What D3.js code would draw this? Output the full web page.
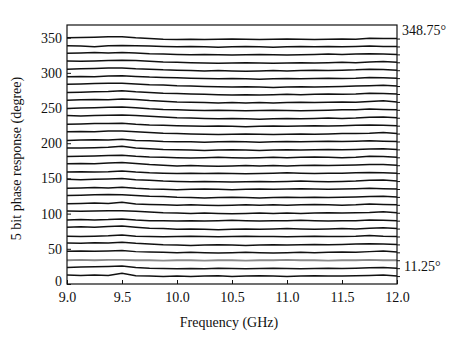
<!DOCTYPE html>
<html>
<head>
<meta charset="utf-8">
<script src="https://cdn.jsdelivr.net/npm/d3@7"></script>
<style>
  body { margin: 0; background: #fff; }
  text { font-family: "Liberation Serif", "Times New Roman", serif; fill: #111; }
</style>
</head>
<body>
<div id="chart-container"></div>
<script>
// frequency points (GHz)
const freqs = [9.0, 9.125, 9.25, 9.375, 9.5, 9.625, 9.75, 9.875, 10.0, 10.125, 10.25, 10.375,
  10.5, 10.625, 10.75, 10.875, 11.0, 11.125, 11.25, 11.375, 11.5, 11.625, 11.75, 11.875, 12.0];

// nominal phase states (degree)
const states = [11.25, 22.5, 33.75, 45, 56.25, 67.5, 78.75, 90, 101.25, 112.5, 123.75, 135,
  146.25, 157.5, 168.75, 180, 191.25, 202.5, 213.75, 225, 236.25, 247.5, 258.75, 270,
  281.25, 292.5, 303.75, 315, 326.25, 337.5, 348.75];

// measured phase error of each state against frequency (degree)
const phaseError = [
  [1.5, 1, 1.5, 1, 4, 0.5, 0, -0.5, 0, -0.5, 0, 0.5, -0.5, 0, 0.5, 0, -0.5, 0, 0.5, 0, 0, 0.5, 1, 1.5, 0],
  [1, 1.5, 2, 2.5, 3, 1, 0, -0.5, -1, -0.5, -1, 0, -0.5, -1, -0.5, 0, -0.5, -1, -0.5, 0, -0.5, 0, 0.5, 1, 0],
  [0, 0.5, 0, 0.5, 0.5, 0, 0, -0.5, 0, 0, -0.5, 0, 0, -0.5, 0, 0, 0.5, 0, 0, -0.5, 0, 0, 0.5, 0, 0],
  [1.5, 2, 1.5, 2, 2.5, 1, 0.5, 0, -0.5, 0, -0.5, -1, -0.5, 0, -0.5, -1, -0.5, 0, -0.5, 0, 0.5, 0, 1, 2, 0.5],
  [2, 1.5, 2.5, 2, 3, 1.5, 0.5, -0.5, -1, -1.5, -1, -0.5, -1, -1.5, -1, -0.5, -1, -0.5, 0, -0.5, 0, 0.5, 1, 0.5, 0],
  [0.5, 0, 0.5, 1, 2, 0.5, 0, -0.5, 0, 0.5, 0, -0.5, 0, 0.5, 0, 0, -0.5, 0, 0.5, 0, 0, 0.5, 1.5, 0.5, 0],
  [2, 2.5, 2, 3, 3.5, 2, 0.5, 0, -1, -0.5, -1, -1.5, -1, -0.5, -1, -0.5, 0, -0.5, -1, -0.5, 0, -0.5, 0.5, 1, 0],
  [1, 1.5, 1, 1.5, 2.5, 1, 0, 0, -0.5, 0, -0.5, 0, 0.5, 0, -0.5, 0, 0, 0.5, 0, -0.5, 0, 0, 1, 0.5, 0],
  [2.5, 2, 2.5, 3, 3, 2, 1, 0, -0.5, -1, -0.5, -1, -1.5, -1, -0.5, -1, -0.5, -1, -0.5, 0, -0.5, 0, 0.5, 1.5, 0],
  [1.5, 2, 2.5, 2, 3.5, 1, 0.5, 0, -0.5, 0, -0.5, -1, -0.5, 0, -0.5, 0, -0.5, 0, 0.5, 0, -0.5, 0, 1, 0.5, 0],
  [2, 2.5, 3, 3.5, 3, 2, 1, 0.5, -0.5, -1, -1.5, -1, -0.5, -1, -1.5, -1, -0.5, -1, -0.5, -1, -0.5, 0, 0.5, 1, 0],
  [1, 1.5, 2, 1.5, 2.5, 1, 0, -0.5, -1, -0.5, 0, -0.5, -1, -0.5, 0, -0.5, 0, 0.5, 0, -0.5, 0, 0.5, 1, 0.5, 0],
  [2.5, 2, 2.5, 3, 3.5, 2, 1, 0, -0.5, -1, -0.5, -1, -1.5, -1, -0.5, -1, -0.5, 0, -0.5, -1, -0.5, 0, 1, 1.5, 0],
  [1.5, 2, 1.5, 2, 3, 1.5, 0.5, 0, -0.5, 0, -0.5, 0, -0.5, -1, -0.5, 0, 0.5, 0, -0.5, 0, 0, 0.5, 1, 0.5, 0],
  [2, 2.5, 2, 3, 4, 2.5, 1, 0, -1, -0.5, -1, -1.5, -1, -0.5, -1, -0.5, -1, -0.5, 0, -0.5, 0, 0.5, 1, 1, 0],
  [1, 1.5, 2, 2.5, 3, 1.5, 0.5, 0, -0.5, -1, -0.5, 0, -0.5, -1, -0.5, 0, -0.5, 0, 0.5, 0, -0.5, 0, 1.5, 1, 0],
  [2, 2, 2.5, 3, 4.5, 2, 1, 0, -0.5, -1, -1.5, -1, -0.5, -1, -1.5, -1, -0.5, -1, -0.5, 0, -0.5, 0, 0.5, 1, 0],
  [1.5, 2, 2.5, 2, 3, 1.5, 1, 0, -0.5, -0.5, -1, -0.5, 0, -0.5, -1, -0.5, 0, -0.5, 0, 0.5, 0, 0.5, 1, 0.5, 0],
  [2.5, 3, 2.5, 3.5, 3.5, 2.5, 1.5, 0.5, 0, -0.5, -1, -1.5, -1, -0.5, -1, -1.5, -1, -0.5, -1, -0.5, 0, 0, 0.5, 1.5, 0],
  [2, 2.5, 3, 3, 3.5, 2, 1, 0.5, 0, -0.5, -1, -0.5, -1, -1.5, -1, -0.5, -1, -0.5, 0, -0.5, 0, 0.5, 1, 0.5, 0],
  [3, 2.5, 3, 3.5, 4, 3, 2, 1, 0, -0.5, -1, -1.5, -1, -1.5, -2, -1.5, -1, -1.5, -1, -0.5, -1, -0.5, 0.5, 1, 0],
  [2, 2.5, 3, 3.5, 4, 3, 1.5, 0.5, 0, -0.5, -1, -0.5, -1, -1.5, -1, -0.5, -1, -1.5, -1, -0.5, 0, 0, 1, 0.5, 0],
  [2.5, 3, 3.5, 3, 4, 3.5, 2, 1, 0, -0.5, -1, -1.5, -1, -1.5, -1, -1.5, -1, -0.5, -1, -0.5, 0, -0.5, 0.5, 1.5, 0],
  [2, 2.5, 3, 3.5, 4.5, 3, 2, 1, 0.5, 0, -0.5, -1, -1.5, -1, -1.5, -1, -0.5, -1, -0.5, 0, -0.5, 0, 1, 0.5, 0],
  [2.5, 3, 3.5, 4, 4, 3, 2, 1.5, 0.5, 0, -0.5, -1, -1.5, -1, -1.5, -2, -1.5, -1, -1.5, -1, -0.5, 0, 0.5, 1, 0],
  [2, 2.5, 2, 3, 3.5, 2.5, 1.5, 1, 0.5, 0, -0.5, -1, -0.5, -1, -1.5, -1, -0.5, -1, -0.5, 0, -0.5, 0, 1, 0.5, 0],
  [1.5, 2, 2.5, 3, 3, 2, 1.5, 0.5, 0, -0.5, -1, -0.5, -1, -1.5, -1, -0.5, -1, -0.5, 0, -0.5, 0, 0.5, 1.5, 1, 0],
  [2, 1.5, 2, 2.5, 3, 2.5, 1.5, 0.5, 0, -0.5, -1, -1.5, -1, -0.5, -1, -1.5, -1, -0.5, -1, -0.5, 0, -0.5, 0.5, 1, 0],
  [1.5, 2, 2.5, 2, 2.5, 2, 1, 0.5, 0, -0.5, 0, -0.5, -1, -0.5, 0, -0.5, -1, -0.5, 0, 0.5, 0, 0.5, 1, 0.5, 0],
  [1, 0.5, -0.5, 1, 1.5, 1, 0.5, 0, -0.5, 0, -0.5, -1, -0.5, 0, -0.5, -1, -0.5, 0, -0.5, 0, -0.5, 0, 0.5, 0, 0],
  [1, 1.5, 2, 2.5, 2.5, 1, 0, -1, -1.5, -1, -1.5, -1, -0.5, -1, -1.5, -1, -0.5, -1, -1.5, -1, -0.5, -1, 0.5, 0, 0]
];

const xTicks = [9.0, 9.5, 10.0, 10.5, 11.0, 11.5, 12.0];
const yTicks = [0, 50, 100, 150, 200, 250, 300, 350];
const endLabels = ["348.75°", "11.25°"];

const xLabel = "Frequency (GHz)";
const yLabel = "5 bit phase response (degree)";

// set dimensions and margins for the chart
const margin = { top: 25, right: 59, bottom: 53, left: 67 };
const width = 456 - margin.left - margin.right;
const height = 337 - margin.top - margin.bottom;

const svg = d3.select("#chart-container")
  .append("svg")
  .attr("width", 456)
  .attr("height", 337)
  .append("g")
  .attr("transform", `translate(${margin.left},${margin.top})`);

const x = d3.scaleLinear().domain([9, 12]).range([0, width]);
const y = d3.scaleLinear().domain([0, 368]).range([height, 0]);

// lines for every phase state
const line = d3.line()
  .x((d, i) => x(freqs[i]))
  .y(d => y(d));

states.forEach((s, k) => {
  const values = phaseError[k].map(e => s + e);
  svg.append("path")
    .datum(values)
    .attr("fill", "none")
    .attr("stroke", s === 33.75 ? "#8a8a8a" : "#111")
    .attr("stroke-width", s === 33.75 ? 1.8 : 1.5)
    .attr("d", line);
});

// frame
svg.append("rect")
  .attr("width", width)
  .attr("height", height)
  .attr("fill", "none")
  .attr("stroke", "#111")
  .attr("stroke-width", 1.2);

// axes with inward ticks
const xAxis = svg.append("g")
  .attr("transform", `translate(0,${height})`)
  .call(d3.axisBottom(x).tickValues(xTicks).tickFormat(d3.format(".1f"))
    .tickSizeInner(-4).tickSizeOuter(0).tickPadding(8));

const yAxis = svg.append("g")
  .call(d3.axisLeft(y).tickValues(yTicks).tickSizeInner(-4).tickSizeOuter(0).tickPadding(5));

[xAxis, yAxis].forEach(g => {
  g.select(".domain").remove();
  g.selectAll("text").style("font-size", "14px").style("font-family", "Liberation Serif, serif").attr("fill", "#111");
  g.selectAll("line").attr("stroke", "#111");
});

// lift the "0" label a little so it clears "9.0"
yAxis.selectAll(".tick text").filter(d => d === 0).attr("dy", "0.1em");

// small outward ticks on the right side at each state
svg.append("g")
  .attr("transform", `translate(${width},0)`)
  .call(d3.axisRight(y).tickValues(states).tickSizeInner(3).tickSizeOuter(0).tickFormat(""))
  .call(g => g.select(".domain").remove())
  .selectAll("line").attr("stroke", "#111");

// end labels
svg.append("text")
  .attr("x", width + 5)
  .attr("y", y(348.75) - 4)
  .style("font-size", "14px")
  .text(endLabels[0]);

svg.append("text")
  .attr("x", width + 7)
  .attr("y", y(11.25) - 5)
  .style("font-size", "14px")
  .text(endLabels[1]);

// axis titles
svg.append("text")
  .attr("x", width / 2 - 3)
  .attr("y", height + 43)
  .style("text-anchor", "middle")
  .style("font-size", "14px")
  .text(xLabel);

svg.append("text")
  .attr("transform", `translate(-46,${height / 2 + 4}) rotate(-90)`)
  .style("text-anchor", "middle")
  .style("font-size", "14px")
  .text(yLabel);
</script>
</body>
</html>
